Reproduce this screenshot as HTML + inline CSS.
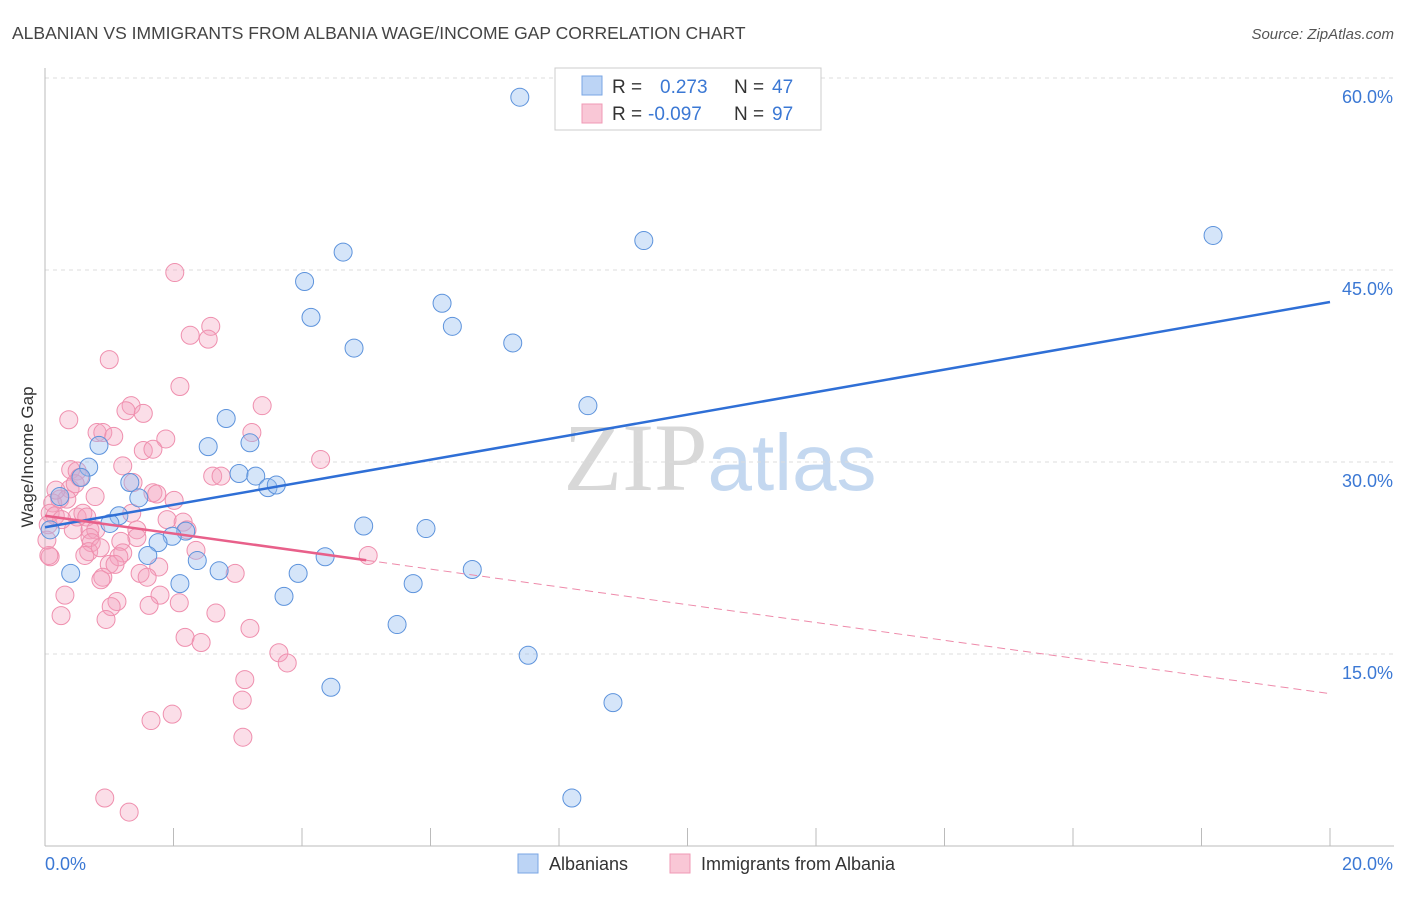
<!DOCTYPE html>
<html><head><meta charset="utf-8"><style>
body{margin:0;background:#fff;font-family:"Liberation Sans",sans-serif;}
svg text{font-family:"Liberation Sans",sans-serif;}
</style></head><body>
<svg id="chart" width="1406" height="892" viewBox="0 0 1406 892" xmlns="http://www.w3.org/2000/svg">
<text x="12" y="39" font-size="17.5" fill="#444">ALBANIAN VS IMMIGRANTS FROM ALBANIA WAGE/INCOME GAP CORRELATION CHART</text>
<text x="1394" y="39" font-size="15" fill="#555" font-style="italic" text-anchor="end">Source: ZipAtlas.com</text>
<text x="720" y="490" font-size="96" text-anchor="middle"><tspan font-family="Liberation Serif,serif" fill="#d8d8d8">ZIP</tspan><tspan fill="#c4d8f0" font-size="80">atlas</tspan></text>
<g id="grid"></g>
<g id="axes"></g>
<text transform="translate(33,457) rotate(-90)" font-size="17" fill="#333" text-anchor="middle">Wage/Income Gap</text>
<g id="pink"></g>
<g id="blue"></g>
<g id="lines"></g>
<g>
<rect x="555" y="68" width="266" height="62" fill="#fff" stroke="#ccc"/>
<rect x="582" y="76" width="20" height="19" fill="#bcd4f5" stroke="#7aa6e4"/>
<rect x="582" y="104" width="20" height="19" fill="#f9c7d6" stroke="#f09ab5"/>
<text x="612" y="93" font-size="19" fill="#333">R =  <tspan fill="#3b78d4" x="660">0.273</tspan><tspan fill="#333" x="734">N =</tspan><tspan fill="#3b78d4" x="772">47</tspan></text>
<text x="612" y="120" font-size="19" fill="#333">R = <tspan fill="#3b78d4" x="648">-0.097</tspan><tspan fill="#333" x="734">N =</tspan><tspan fill="#3b78d4" x="772">97</tspan></text>
</g>
<g>
<rect x="518" y="854" width="20" height="19" fill="#bcd4f5" stroke="#7aa6e4"/>
<text x="549" y="870" font-size="18" fill="#333">Albanians</text>
<rect x="670" y="854" width="20" height="19" fill="#f9c7d6" stroke="#f09ab5"/>
<text x="701" y="870" font-size="18" fill="#333">Immigrants from Albania</text>
</g>
</svg>
<script>
const yTicks=[15,30,45,60];
const xTickLabels=["0.0%","20.0%"];
const blueX=[7.39,4.64,4.04,4.14,6.18,6.34,4.81,7.28,9.32,18.18,8.45,2.82,3.19,2.54,0.84,0.68,3.02,3.28,3.47,3.60,1.32,0.56,1.46,0.23,1.15,1.01,4.96,5.93,2.19,1.98,1.76,0.08,1.60,4.36,2.37,2.71,3.94,6.65,0.40,2.10,5.73,3.72,5.48,7.52,4.45,8.84,8.20];
const blueY=[58.5,46.4,44.1,41.3,42.4,40.6,38.9,39.3,47.3,47.7,34.4,33.4,31.5,31.2,31.3,29.6,29.1,28.9,28.0,28.2,28.4,28.8,27.2,27.3,25.8,25.2,25.0,24.8,24.6,24.2,23.7,24.7,22.7,22.6,22.3,21.5,21.3,21.6,21.3,20.5,20.5,19.5,17.3,14.9,12.4,11.2,3.75];
const pinkX=[2.58,2.26,2.54,1.00,2.10,1.34,1.26,1.53,0.37,3.38,0.81,0.90,1.07,3.22,1.88,1.53,1.68,4.29,1.21,2.61,2.74,0.40,0.50,0.54,1.37,0.78,1.68,1.74,2.01,0.39,0.23,0.12,0.34,0.08,0.16,0.50,0.59,0.65,0.44,0.70,0.79,1.35,1.43,1.43,1.90,2.15,2.21,0.70,0.72,0.68,1.18,1.21,1.15,2.35,0.08,1.00,1.09,0.90,0.87,1.77,1.48,1.59,2.96,5.03,0.31,1.79,1.12,1.03,1.62,2.09,0.25,0.95,2.66,3.19,2.18,2.43,3.64,3.77,2.02,3.11,3.07,3.08,1.65,1.98,0.93,1.31,0.06,0.05,0.03,0.62,0.26,0.86,0.17,0.47];
const pinkY=[40.6,39.9,39.6,38.0,35.9,34.4,34.0,33.8,33.3,34.4,32.3,32.3,32.0,32.3,31.8,30.9,31.0,30.2,29.7,28.9,28.9,29.4,29.3,28.8,28.4,27.3,27.6,27.5,27.0,27.9,27.1,26.8,27.1,26.0,25.8,25.7,26.0,25.7,24.7,24.7,24.7,26.0,24.7,24.1,25.5,25.3,24.7,24.1,23.7,23.0,23.8,22.9,22.6,23.1,22.6,22.0,22.0,21.0,20.8,21.8,21.3,21.0,21.3,22.7,19.6,19.6,19.1,18.7,18.8,19.0,18.0,17.7,18.2,17.0,16.3,15.9,15.1,14.3,44.8,13.0,11.4,8.5,9.8,10.3,3.75,2.65,22.7,25.1,23.9,22.7,25.5,23.3,27.8,28.3];
const blueTrend=[24.9,42.5];
const pinkTrend=[25.8,11.9];
const pinkSolidEnd=5.0;

const NS="http://www.w3.org/2000/svg";
const X0=45,X1=1330,Y0=846,Y60=78;
const sx=v=>X0+(X1-X0)*v/20;
const sy=v=>Y0-(Y0-Y60)*v/60;
function mk(tag,attrs,parent){const e=document.createElementNS(NS,tag);for(const k in attrs)e.setAttribute(k,attrs[k]);parent.appendChild(e);return e;}
const grid=document.getElementById('grid'),axes=document.getElementById('axes');
yTicks.forEach(t=>{
  const l=mk('line',{x1:X0,x2:1394,y1:sy(t),y2:sy(t),stroke:'#ddd','stroke-dasharray':'4,4'},grid);
  
  
  const tx=mk('text',{x:1393,y:sy(t)+25,'font-size':18,fill:'#3b78d4','text-anchor':'end'},axes);
  tx.textContent=t.toFixed(1)+'%';
  
  
});
mk('line',{x1:X0,x2:X0,y1:68,y2:Y0,stroke:'#bbb'},axes);
mk('line',{x1:X0,x2:1394,y1:Y0,y2:Y0,stroke:'#bbb'},axes);
for(let i=0;i<=10;i++){mk('line',{x1:sx(i*2),x2:sx(i*2),y1:828,y2:Y0,stroke:'#bbb'},axes);}
const xl0=mk('text',{x:45,y:870,'font-size':18,fill:'#3b78d4'},axes);xl0.textContent=xTickLabels[0];


const xl1=mk('text',{x:1393,y:870,'font-size':18,fill:'#3b78d4','text-anchor':'end'},axes);xl1.textContent=xTickLabels[1];


const pg=document.getElementById('pink'),bg=document.getElementById('blue');
pinkX.forEach((x,i)=>{const c=mk('circle',{cx:sx(x),cy:sy(pinkY[i]),r:9,fill:'rgba(244,160,190,0.35)',stroke:'#ef8fae','stroke-width':1},pg);
  
  });
blueX.forEach((x,i)=>{const c=mk('circle',{cx:sx(x),cy:sy(blueY[i]),r:9,fill:'rgba(150,190,240,0.4)',stroke:'#5d93dc','stroke-width':1},bg);
  
  });
const lg=document.getElementById('lines');
const bl=mk('line',{x1:sx(0),y1:sy(blueTrend[0]),x2:sx(20),y2:sy(blueTrend[1]),stroke:'#2f6fd6','stroke-width':2.5},lg);


const pAt=x=>pinkTrend[0]+(pinkTrend[1]-pinkTrend[0])*x/20;
const ps=mk('line',{x1:sx(0),y1:sy(pAt(0)),x2:sx(pinkSolidEnd),y2:sy(pAt(pinkSolidEnd)),stroke:'#e8608a','stroke-width':2.5},lg);


const pd=mk('line',{x1:sx(pinkSolidEnd),y1:sy(pAt(pinkSolidEnd)),x2:sx(20),y2:sy(pAt(20)),stroke:'#ee8aaa','stroke-width':1,'stroke-dasharray':'8,5'},lg);


</script>
</body></html>
